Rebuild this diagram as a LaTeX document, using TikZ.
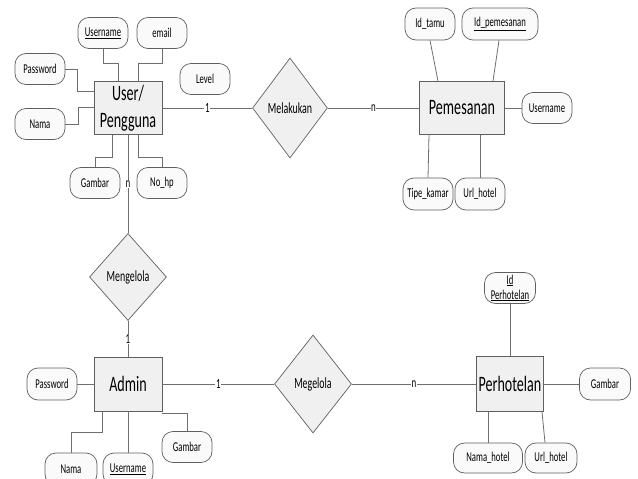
\documentclass[tikz,border=0pt]{standalone}
\usepackage{fontspec}
\setmainfont{Carlito}
\newfontfamily\erfont[FakeStretch=0.64]{Carlito}
\usetikzlibrary{shapes.geometric, positioning}
\definecolor{erline}{RGB}{110,110,110}
\definecolor{erborder}{RGB}{95,95,95}
\definecolor{erfill}{RGB}{240,240,240}
\definecolor{attfill}{RGB}{250,250,250}
\tikzset{
  entity/.style={rectangle, draw=erborder, fill=erfill,
    minimum width=68pt, minimum height=53pt, inner sep=1pt, align=center,
    font=\erfont\fontsize{22}{27}\selectfont, line width=0.8pt},
  attrib/.style={rectangle, draw=erborder, fill=attfill, rounded corners=11pt,
    minimum width=50pt, minimum height=31pt, inner sep=1pt, align=center,
    font=\erfont\fontsize{13.5}{16}\selectfont, line width=0.7pt},
  relation/.style={diamond, draw=erborder, fill=erfill,
    minimum width=77pt, minimum height=98pt, inner sep=0pt,
    font=\erfont\fontsize{15.5}{18}\selectfont, line width=0.7pt},
  conn/.style={line width=0.8pt, color=erline},
  card/.style={fill=white, inner sep=0.6pt, text=black,
    font=\erfont\fontsize{14}{16}\selectfont}
}

\begin{document}
\begin{tikzpicture}[x=1pt, y=-1pt]
  \useasboundingbox (0,0) rectangle (638,479);

  % Entities
  \node[entity] (user) at (128,108) {User/\\Pengguna};
  \node[entity, minimum width=85pt] (psn) at (462,108) {Pemesanan};
  \node[entity, minimum height=54pt] (adm) at (128,384) {Admin};
  \node[entity, minimum width=67pt, minimum height=55pt] (pht) at (510,384) {Perhotelan};

  % Relations
  \node[relation, minimum width=75pt, minimum height=100pt] (mlk) at (290,108) {Melakukan};
  \node[relation, minimum height=87pt] (mgl) at (128,277) {Mengelola};
  \node[relation] (mgo) at (313,384) {Megelola};

  % Attributes of User/Pengguna
  \node[attrib] (uun) at (103,33) {\underline{Username}};
  \node[attrib] (eml) at (162,33) {email};
  \node[attrib] (upw) at (40,69) {Password};
  \node[attrib] (unm) at (40,124) {Nama};
  \node[attrib] (ulv) at (205,79) {Level};
  \node[attrib] (ugb) at (95,183) {Gambar};
  \node[attrib] (uhp) at (162,183) {No\_hp};

  % Attributes of Pemesanan
  \node[attrib, minimum height=32pt] (pit) at (430,24) {Id\_tamu};
  \node[attrib, minimum width=76pt, minimum height=32pt] (pip) at (500,24) {\underline{Id\_pemesanan}};
  \node[attrib] (pun) at (547,108) {Username};
  \node[attrib, minimum height=32pt] (ptk) at (428,194) {Tipe\_kamar};
  \node[attrib, minimum height=32pt] (pur) at (480,194) {Url\_hotel};

  % Attributes of Admin
  \node[attrib, minimum height=32pt] (apw) at (52,384) {Password};
  \node[attrib, minimum width=52pt, minimum height=32pt] (anm) at (71,469) {Nama};
  \node[attrib, minimum height=32pt] (aun) at (128,469) {\underline{Username}};
  \node[attrib] (agb) at (187,447) {Gambar};

  % Attributes of Perhotelan
  \node[attrib, minimum width=51pt, inner sep=0pt] (pid) at (510,288) {\underline{Id}\\[-1pt]\underline{Perhotelan}};
  \node[attrib, minimum width=51pt, minimum height=32pt] (pgb) at (605,384) {Gambar};
  \node[attrib, minimum width=69pt, minimum height=30pt] (pnh) at (488,458) {Nama\_hotel};
  \node[attrib, minimum width=52pt, minimum height=30pt] (pul) at (551,458) {Url\_hotel};

  % Relationship lines
  \draw[conn] (user.east) -- node[card] {1} (mlk.west);
  \draw[conn] (mlk.east) -- node[card] {n} (psn.west);
  \draw[conn] (user.south) -- node[card] {n} (mgl.north);
  \draw[conn] (mgl.south) -- node[card] {1} (adm.north);
  \draw[conn] (adm.east) -- node[card] {1} (mgo.west);
  \draw[conn] (mgo.east) -- node[card] {n} (pht.west);

  % User/Pengguna attribute lines
  \draw[conn] (uun.south) -- ++(0,15) -| ([xshift=-10pt]user.north);
  \draw[conn] (eml.south) -- ++(0,15) -| ([xshift=10pt]user.north);
  \draw[conn] (upw.east) -- ++(12,0) |- ([yshift=17pt]user.west);
  \draw[conn] (unm.east) -- ++(13,0) |- ([yshift=1pt]user.west);
  \draw[conn] (ugb.north) -- ++(0,-10) -| ([xshift=-16pt]user.south);
  \draw[conn] (uhp.north) -- ++(0,-10) -| ([xshift=10pt]user.south);

  % Pemesanan attribute lines
  \draw[conn] (pit.south) -- ([xshift=-24pt]psn.north);
  \draw[conn] ([xshift=-1pt]pip.south) -- ([xshift=31pt]psn.north);
  \draw[conn] (psn.east) -- (pun.west);
  \draw[conn] ([xshift=-33pt]psn.south) -- (ptk.north);
  \draw[conn] ([xshift=18pt]psn.south) -- (pur.north);

  % Admin attribute lines
  \draw[conn] (apw.east) -- (adm.west);
  \draw[conn] (anm.north) -- ++(0,-20) -| ([xshift=-26pt]adm.south);
  \draw[conn] (adm.south) -- (aun.north);
  \draw[conn] (agb.north) |- ([yshift=-1.5pt]adm.south east);

  % Perhotelan attribute lines
  \draw[conn] (pid.south) -- (pht.north);
  \draw[conn] (pht.east) -- (pgb.west);
  \draw[conn] ([xshift=-22pt]pht.south) -- (pnh.north);
  \draw[conn] ([xshift=32pt]pht.south) -- ([xshift=-6pt]pul.north);
\end{tikzpicture}
\end{document}
